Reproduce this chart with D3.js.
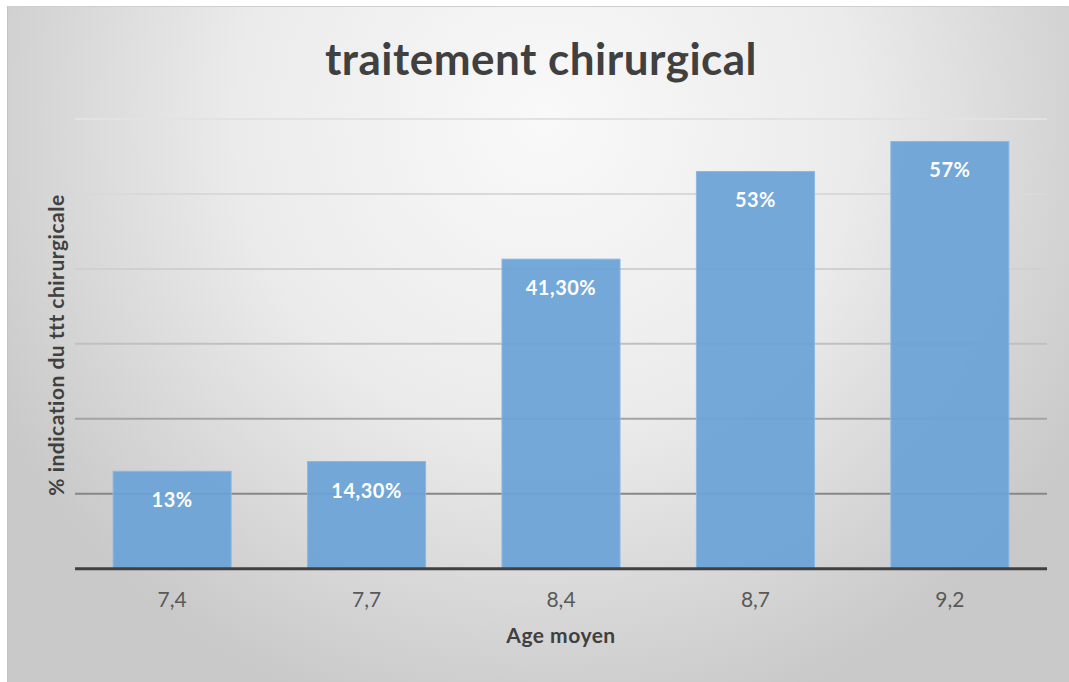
<!DOCTYPE html>
<html>
<head>
<meta charset="utf-8">
<script src="https://cdn.jsdelivr.net/npm/d3@7"></script>
<style>
  html, body { margin: 0; padding: 0; background: #ffffff; }
  svg { display: block; }
  text { font-family: Lato, "Open Sans", sans-serif; }
</style>
</head>
<body>
<script>
// Surgical treatment rate by mean age
const ages = ["7,4", "7,7", "8,4", "8,7", "9,2"];
const rates = [13, 14.3, 41.3, 53, 57];
const rateLabels = ["13%", "14,30%", "41,30%", "53%", "57%"];
const gridTicks = [10, 20, 30, 40, 50, 60];

const W = 1069, H = 682;
const margin = { left: 75, right: 22, top: 119, bottom: 113 };

const svg = d3.select("body").append("svg")
  .attr("width", W).attr("height", H);

const defs = svg.append("defs");

const bg = defs.append("radialGradient")
  .attr("id", "bg")
  .attr("gradientUnits", "userSpaceOnUse")
  .attr("cx", 545).attr("cy", 120).attr("r", 620);
[[0, "#f9f9f9"], [0.5, "#ebebeb"], [0.85, "#d3d3d3"], [1, "#c9c9c9"]]
  .forEach(([o, c]) => bg.append("stop").attr("offset", o).attr("stop-color", c));

const gridGrad = defs.append("linearGradient")
  .attr("id", "gridGrad")
  .attr("gradientUnits", "userSpaceOnUse")
  .attr("x1", 0).attr("x2", 0).attr("y1", 119).attr("y2", 494);
[[0, "#e2e2e2"], [0.4, "#d0d0d0"], [0.6, "#c0c0c0"], [0.8, "#a3a3a3"], [1, "#878787"]]
  .forEach(([o, c]) => gridGrad.append("stop").attr("offset", o).attr("stop-color", c));

// chart frame
svg.append("rect")
  .attr("x", 7).attr("y", 6).attr("width", W - 7).attr("height", H - 6)
  .attr("fill", "url(#bg)");
svg.append("line")
  .attr("x1", 7).attr("x2", W).attr("y1", 6.5).attr("y2", 6.5)
  .attr("stroke", "#cfcfcf").attr("stroke-width", 1);
svg.append("line")
  .attr("x1", 7.5).attr("x2", 7.5).attr("y1", 6).attr("y2", H)
  .attr("stroke", "#c4c4c4").attr("stroke-width", 1);

const x = d3.scaleBand()
  .domain(ages)
  .range([margin.left, W - margin.right])
  .paddingInner(0.393)
  .paddingOuter(0.196);

const y = d3.scaleLinear()
  .domain([0, 60])
  .range([H - margin.bottom - 0.3, margin.top]);

// horizontal gridlines
svg.append("g")
  .selectAll("line")
  .data(gridTicks)
  .join("line")
  .attr("x1", margin.left).attr("x2", W - margin.right)
  .attr("y1", d => y(d)).attr("y2", d => y(d))
  .attr("stroke", "url(#gridGrad)")
  .attr("stroke-width", 2);

// bars
svg.append("g")
  .selectAll("rect")
  .data(rates)
  .join("rect")
  .attr("x", (d, i) => x(ages[i]))
  .attr("width", x.bandwidth())
  .attr("y", d => y(d))
  .attr("height", d => y(0) - y(d))
  .attr("fill", "#6aa2d6")
  .attr("fill-opacity", 0.93)
  .attr("stroke", "#8ab8e3")
  .attr("stroke-width", 1);

// value labels
svg.append("g")
  .selectAll("text")
  .data(rates)
  .join("text")
  .attr("x", (d, i) => x(ages[i]) + x.bandwidth() / 2)
  .attr("y", d => y(d) + 36)
  .attr("text-anchor", "middle")
  .attr("fill", "#ffffff")
  .attr("font-weight", 700)
  .attr("font-size", 20)
  .attr("letter-spacing", 0.5)
  .text((d, i) => rateLabels[i]);

// category axis
const xAxis = svg.append("g")
  .attr("transform", `translate(0,${y(0)})`)
  .call(d3.axisBottom(x).tickSize(0).tickPadding(23));
xAxis.select(".domain")
  .attr("stroke", "#404040").attr("stroke-width", 3)
  .attr("d", `M${margin.left},0H${W - margin.right}`);
xAxis.selectAll(".tick text")
  .attr("font-family", "Lato, 'Open Sans', sans-serif")
  .attr("font-size", 21)
  .attr("fill", "#595959");

// titles
svg.append("text")
  .attr("x", 541).attr("y", 75)
  .attr("text-anchor", "middle")
  .attr("font-size", 44)
  .attr("font-weight", 700)
  .attr("letter-spacing", 0.5)
  .attr("fill", "#404040")
  .text("traitement chirurgical");

svg.append("text")
  .attr("x", (margin.left + W - margin.right) / 2).attr("y", 643)
  .attr("text-anchor", "middle")
  .attr("font-size", 21)
  .attr("font-weight", 700)
  .attr("letter-spacing", 0.5)
  .attr("fill", "#404040")
  .text("Age moyen");

svg.append("text")
  .attr("transform", "translate(64,345) rotate(-90)")
  .attr("text-anchor", "middle")
  .attr("font-size", 21)
  .attr("font-weight", 700)
  .attr("letter-spacing", 0.5)
  .attr("fill", "#404040")
  .text("% indication du ttt chirurgicale");
</script>
</body>
</html>
